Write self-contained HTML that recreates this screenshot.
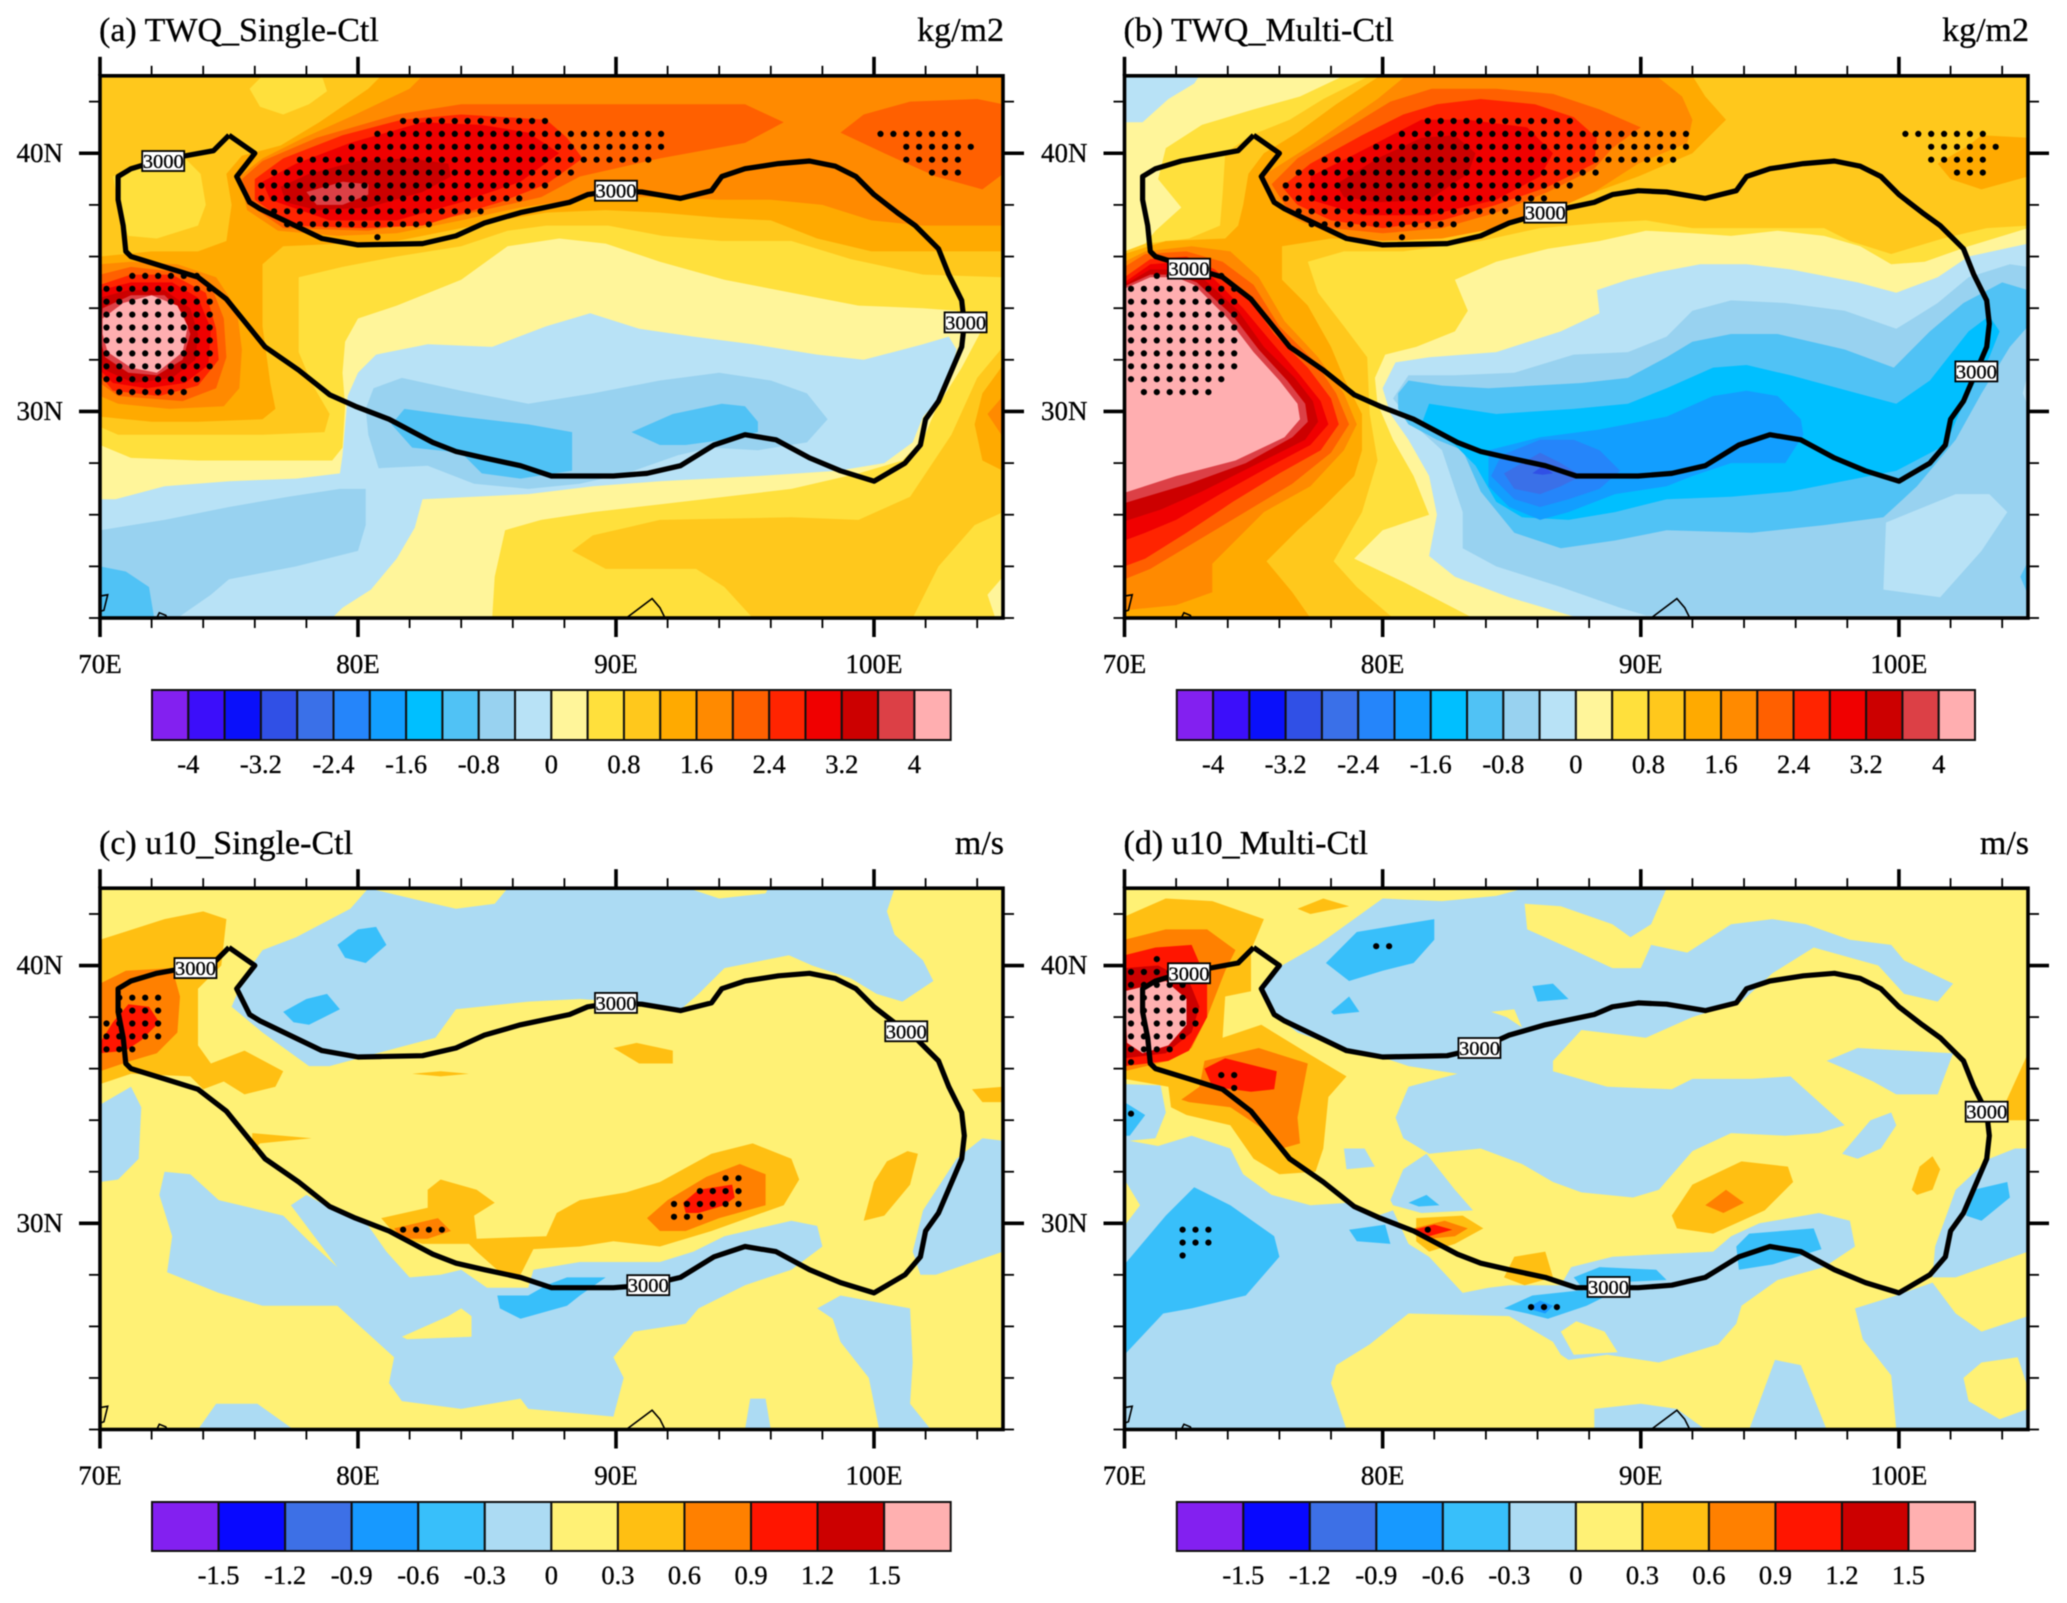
<!DOCTYPE html>
<html lang="en">
<head>
<meta charset="utf-8">
<title>TWQ and u10 anomalies</title>
<style>
html,body{margin:0;padding:0;background:#fff;}
svg{display:block;font-family:"Liberation Serif",serif;fill:#000;filter:blur(0.5px);}
svg text{stroke:#000;stroke-width:.3px;}
</style>
</head>
<body>
<svg id="figure" xmlns="http://www.w3.org/2000/svg" width="2067" height="1603" viewBox="0 0 2067 1603">
<rect x="0" y="0" width="2067" height="1603" fill="#fff"/>
<text x="99" y="41" font-size="34">(a) TWQ_Single-Ctl</text>
<text x="1004" y="41" font-size="34" text-anchor="end">kg/m2</text>
<text x="1123.5" y="41" font-size="34">(b) TWQ_Multi-Ctl</text>
<text x="2029" y="41" font-size="34" text-anchor="end">kg/m2</text>
<text x="99" y="854" font-size="34">(c) u10_Single-Ctl</text>
<text x="1004" y="854" font-size="34" text-anchor="end">m/s</text>
<text x="1123.5" y="854" font-size="34">(d) u10_Multi-Ctl</text>
<text x="2029" y="854" font-size="34" text-anchor="end">m/s</text>
</svg>
<script>
// ---- colour bands and colour-bar labels ----
const twqColors = ["#8320F0","#3C0EFA","#0A10FA","#3050E6","#3A70E8","#2585FA","#129EFF","#00BFFF","#50C2F5","#98D2F0","#B8E2F6","#FFF59A","#FFE03C","#FFC81C","#FFAA00","#FF8A00","#FF6000","#FF2400","#F00000","#CC0000","#DC4046","#FFAEB0"];
const windColors = ["#8320F0","#0808FF","#3D70E6","#1799FF","#38BFFA","#ACDBF3","#FFF175","#FFBF12","#FF8000","#FF1500","#CC0000","#FFB0B0"];
const twqColorbarLabels = ["-4","","-3.2","","-2.4","","-1.6","","-0.8","","0","","0.8","","1.6","","2.4","","3.2","","4"];
const windColorbarLabels = ["-1.5","-1.2","-0.9","-0.6","-0.3","0","0.3","0.6","0.9","1.2","1.5"];

// ---- axes ----
const lonMajorTicks = [70,80,90,100];
const lonMajorLabels = ["70E","80E","90E","100E"];
const lonMinorTicks = [72,74,76,78,82,84,86,88,92,94,96,98,102,104];
const latMajorTicks = [40,30];
const latMajorLabels = ["40N","30N"];
const latMinorTicks = [42,38,36,34,32,28,26,24,22];

// ---- 3000 m terrain contour (lon, lat) ----
const terrainContour = [75,40.7,76,40,75.3,39.1,75.8,38.1,76.2,37.85,78.6,36.7,80,36.45,82.5,36.5,83.8,36.8,84.9,37.3,86.3,37.7,88.2,38.1,88.9,38.4,89.9,38.55,91,38.5,92.5,38.25,93.7,38.55,94.1,39.1,95,39.4,96.3,39.6,97.5,39.7,98.5,39.5,99.3,39.1,100,38.4,100.9,37.7,101.6,37.2,102.5,36.3,102.9,35.3,103.4,34.3,103.5,33.4,103.4,32.5,102.5,30.4,102,29.7,101.8,28.7,101.2,28,100,27.3,98.7,27.7,97.5,28.2,96.2,28.9,95,29.1,93.8,28.7,92.5,27.9,91.2,27.6,89.9,27.5,87.5,27.5,86.3,27.9,84.9,28.2,83.8,28.45,82.9,28.8,81.2,29.7,79.9,30.2,78.9,30.65,77.7,31.6,76.4,32.5,74.9,34.35,73.8,35.2,72.5,35.6,71.2,36,71,36.2,70.9,37.2,70.7,38.2,70.7,39.1,71.2,39.4,72.2,39.7,74.4,40.1,75,40.7];
const mapOutlines = [[70,22.85,70.3,22.9,70.15,22.3,70,22.25],[72.2,22,72.3,22.2,72.55,22.1,72.6,22],[90.4,22,91.4,22.75,91.7,22.4,91.9,22],[88.2,22,88.2,22.06]];

// ---- label anchors on the terrain contour (lon, lat) ----
const twqSingleTerrainLabels = [[72.45,39.7],[90,38.55],[103.55,33.45]];
const twqMultiTerrainLabels = [[72.5,35.53],[86.3,37.7],[103,31.55]];
const windSingleTerrainLabels = [[73.7,39.9],[90,38.55],[101.25,37.45],[91.25,27.6]];
const windMultiTerrainLabels = [[72.5,39.7],[83.75,36.8],[88.75,27.53],[103.4,34.33]];

// ---- significance stippling: [lat, first lon, last lon], sampled every 0.5 degree ----
const twqStippleRows = [[41.25,81.75,87.25],[40.75,80.75,91.75],[40.25,79.75,91.75],[39.75,77.75,91.25],[39.25,76.75,88.25],[38.75,76.25,87.25],[38.25,76.25,86.25],[37.75,76.75,84.75],[37.25,77.25,82.75],[36.75,80.75,80.75],[40.75,100.25,103.25],[40.25,101.25,103.75],[39.75,101.25,103.25],[39.25,102.25,103.25],[35.25,71.25,73.75],[34.75,70.25,74.25],[34.25,70.25,74.25],[33.75,70.25,74.25],[33.25,70.25,74.25],[32.75,70.25,74.25],[32.25,70.25,74.25],[31.75,70.25,74.25],[31.25,70.25,73.75],[30.75,70.75,73.25]];
const windSingleStippleRows = [[38.75,70.75,72.25],[38.25,70.75,72.25],[37.75,70.25,72.25],[37.25,70.25,72.25],[36.75,70.25,71.25],[29.75,81.75,83.25],[31.75,94.25,94.75],[31.25,93.25,94.75],[30.75,92.25,94.75],[30.25,92.25,93.25]];
const windMultiStippleRows = [[40.25,71.25,71.25],[39.75,70.25,71.75],[39.25,70.25,72.25],[38.75,70.25,72.25],[38.25,70.25,72.75],[37.75,70.25,72.75],[37.25,70.25,72.25],[36.75,70.25,71.75],[36.25,70.25,70.25],[40.75,79.75,80.25],[35.75,73.75,74.25],[35.25,74.25,74.25],[34.25,70.25,70.25],[29.75,72.25,73.25],[29.25,72.25,73.25],[28.75,72.25,72.25],[29.75,81.75,81.75],[26.75,85.75,86.75]];

// ---- filled contour regions: [colour band, [lon, lat, lon, lat, ...]] painted in order ----
const twqSingleBaseBand = 13;
const twqSingleRegions = [
[12,[70,29.4,70.7,29.1,73.8,29.1,76.3,29.1,78.7,29.2,78.9,29.9,78.2,31.1,77.7,32.3,77.7,35.2,79.4,35.6,81.5,36,84,36.4,85.8,37,87.3,37.2,89.7,37.2,91.8,36.8,94.1,36.6,96.8,36.6,99.1,35.9,101.9,35.3,105,35.2,105,32.5,104,31.3,103,29.1,101.4,26.7,99.4,25.8,96.8,25.9,91.7,25.8,89.1,25.2,88.3,24.6,89.6,23.9,93.1,23.9,94.2,23.2,95.3,22,70,22]],
[12,[101.5,22,102.5,24,103.9,25.6,105,26.1,105,22]],
[12,[75.8,42.5,76.3,43,78.6,43,78.8,42.4,78.1,41.9,77.1,41.5,76.2,41.8]],
[12,[70.5,39.1,71.6,39.6,73.3,39.8,73.9,39.2,74.1,38,73.8,37.2,72.2,36.7,71.1,36.8,70.8,37.6]],
[11,[70,28.7,71.2,28.2,73.8,28.1,76.3,28.1,79,28.1,79.4,28.6,79.5,30.2,79.4,31.5,79.5,32.7,80,33.6,81.5,34.1,84,35.1,85.8,36.4,87.8,36.7,89.6,36.5,91.7,35.8,94.2,35.1,96.8,34.6,99.4,34.1,101.9,34,103.2,33.9,104.2,33.2,103.4,31.7,102.4,30.1,101.9,28.9,101.1,28.1,99.4,27.6,96.8,27,91.7,26.4,89.1,26.1,87.1,25.8,85.7,25.4,85.3,23.6,85.2,22,70,22]],
[11,[105,23.6,104.4,22.9,104.7,22,105,22]],
[10,[70,26.6,70.6,26.6,72.5,27.1,75,27.3,77.6,27.4,79.3,27.6,79.4,28.3,79.6,30.6,80,31.5,80.7,32.2,82.7,32.6,85.2,32.5,87.3,33.3,89,33.8,90.9,33.2,93,32.9,95.3,32.6,97.8,32.2,99.6,32,101.9,32.6,102.9,32.9,103.2,32.4,102.8,30.8,101.9,29.8,101.5,28.8,100.4,28,98.6,27.7,95.5,27.5,91.7,27.3,89.1,27.1,86.6,26.8,84.5,26.7,82.5,26.6,82.2,25.5,81.5,24.3,80.5,23.1,79.4,22.4,79,22,70,22]],
[9,[80.6,30.9,81.7,31.3,84,30.8,86.6,30.3,89.1,30.7,91.7,31.2,94,31.5,96,31.2,97.4,30.7,98.2,29.7,97.4,28.8,95.5,28.5,93.7,28.6,92.4,28.3,90.4,27.6,88.6,27.2,86.6,27,84.5,27.2,82.7,27.9,80.8,27.8,80.4,29.1,80.3,30.1]],
[9,[70,25.4,72.5,25.8,75,26.3,77.3,26.7,79.3,27,80.3,27,80.3,25.6,80,24.6,77.6,24,75,23.5,74.3,22.9,73,22,70,22]],
[8,[81.8,30.1,84,29.8,86.6,29.5,88.3,29.2,88.3,27.7,87.6,27.6,86.3,27.4,84.8,27.6,84,28.4,82.1,28.6,81.3,29.5]],
[8,[90.6,29.2,92.2,29.9,94.1,30.3,95,30.2,95.5,29.6,95.5,29.2,94.2,28.9,92.7,28.7,91.7,28.7]],
[8,[70,24,71,23.8,71.9,23.2,72.1,22,70,22]],
[14,[80.9,43,80.4,42.5,78.5,41.2,77,40.3,75.5,39.9,74.9,39.2,75.1,38,74.9,36.6,73.8,36.2,72,36.2,70,36,70,29.8,72,29.6,73.8,29.6,76.3,29.7,76.8,30.1,76.6,31.1,76.3,33.3,76.3,35.7,77.1,36.4,79.4,36.5,81.5,36.6,83.5,37,85.5,37.4,87.3,37.7,89.6,37.8,91.7,37.7,94,37.5,96,37.4,97.8,36.7,99.9,36.2,101.9,36.2,105,36.2,105,43]],
[14,[105,31.8,104.2,30.7,103.9,29.5,104.2,28.1,105,27.7]],
[15,[105,30.6,104.4,29.9,105,29]],
[15,[82.5,43,82,42.5,79.9,41.5,77.9,40.6,76.3,39.8,75.4,39.1,75.7,37.8,76.9,37,79.2,36.8,81.5,36.9,84,37.4,86.3,37.9,89.1,38.3,91.7,38.3,94,38.2,96,38.2,98,38,99.9,37.4,101.9,37.2,105,37.2,105,43]],
[15,[70,35.7,71.2,35.8,73,35.7,74.5,35.2,75.3,34,75.5,32.4,75.4,30.9,74.8,30.2,72.7,30.1,70.7,30.3,70,30.6]],
[16,[81.5,41.5,84,41.9,87.8,41.9,91.7,41.9,95,41.9,96.5,41.2,95,40.4,91.7,39.8,88.6,39.1,87.1,38.3,84,37.6,80.4,37,77.1,37.1,75.8,38,75.5,39,76.3,39.7,78.4,40.6]],
[16,[98.7,40.8,99.6,41.5,101.4,42,104,42.1,105,41.9,105,39.2,104.2,38.6,102.4,39.1,100.4,40]],
[16,[70,35.3,71.2,35.6,73,35.4,74.3,34.9,74.8,33.6,74.9,32.1,74.5,30.9,73.2,30.4,70.7,30.6,70,31.1]],
[17,[81.7,41.3,84,41.5,87.3,41.3,88.1,40.6,88.7,39.8,87.3,38.8,85.5,38.1,82.5,37.2,80.2,37.1,77.4,37.2,76,38.2,76,39,77.1,39.8,79.4,40.7]],
[17,[70,34.9,71.2,35.3,72.8,35.3,74.1,34.6,74.5,33.2,74.6,32,73.8,31,72.3,30.6,70.5,30.8,70,31.4]],
[18,[82.5,41.2,84.8,41.1,86.6,40.8,87.8,40,86.3,38.9,84,38.1,81.5,37.4,78.9,37.4,76.6,38.2,76.3,38.9,77.6,39.6,79.7,40.4]],
[18,[70,34.7,71.2,35,72.8,35,73.8,34.4,74.3,33.2,74.2,31.8,73.3,31.1,71.8,30.9,70.5,31.1,70,31.6]],
[19,[77,38.7,78.1,39.2,80,39.7,82,39.8,83.5,39.6,83.6,39.1,82.5,38.5,80.4,37.9,78.4,37.8,77.2,38.1]],
[19,[70,34.4,71.1,34.7,72.5,34.7,73.5,34,73.8,33,73.7,32,72.8,31.3,71.3,31.1,70.2,31.6,70,32]],
[20,[78,38.5,79.4,38.9,80.4,38.8,80.4,38.4,79.4,38,78.4,38]],
[20,[70.1,34,71.2,34.5,72.5,34.5,73.2,33.8,73.5,33,73.2,32,72.2,31.4,71.1,31.5,70.2,32.1,70,32.8]],
[21,[70.1,33.6,70.9,34.2,72,34.5,73,34.1,73.4,33.3,73.2,32.3,72.2,31.5,71.2,31.7,70.3,32.3,70.1,33]]
];

const twqMultiBaseBand = 13;
const twqMultiRegions = [
[12,[79.5,43,77.7,42.1,76.4,41.3,74.9,40.7,73.9,40,73.8,38.4,73.7,37.2,72.5,36.7,70,36.4,70,43]],
[11,[70,43,78.5,43,76.8,42.2,75,41.7,73,41.1,71.6,40.2,71.3,39,72.2,37.9,71.2,37,70.8,36.5,70,36.2]],
[10,[70,43,72.9,43,72.7,42.7,71.7,42.1,70.7,41.2,70,41.2]],
[12,[77.1,35.8,78.5,36.2,80.8,36.2,83.8,36.6,86.1,37.1,88.4,37.3,90.2,37.4,92,37.1,94.6,37.1,97.1,37.1,98.1,36.6,99.7,36.1,101.7,36.7,103.4,37.1,105,37.2,105,22,80.4,22,79,23.2,78.1,24.2,79.2,26.1,79.8,28.1,79.5,29.9,79.4,32.1,78.5,33.3,77.5,34.6]],
[11,[80.1,32.2,81.3,32.5,82.8,33.1,83.3,33.9,82.8,35.1,84.4,35.8,86.4,36.3,88.4,36.6,90.2,37,92,36.9,93.5,36.8,95.3,37,97.1,36.8,98.5,36.4,99.7,35.7,101,35.8,102.7,36.4,105,37.1,105,22,83.5,22,80.8,23.4,78.9,24.3,80,25.4,81.8,26,81.2,27.5,80.4,28.9,79.8,30.3,79.7,31.3]],
[10,[87.6,22,84.9,22.8,82.8,23.6,81.8,24.4,82.1,26,81.8,27.5,81,28.9,80.3,29.9,80,30.9,80.5,31.9,81.8,32.1,84.4,32.3,86.9,33.1,88.4,33.8,88.3,34.7,89.5,35.1,90.7,35.4,92.3,35.7,94.1,35.7,95.8,35.5,98.4,35,99.9,34.6,101.5,35.2,102.7,36,105,36.5,105,22]],
[9,[80.4,30.5,81,31.4,82.8,31.4,85.1,31.5,87.4,32.2,89.5,32.3,91,32.9,92,33.9,93.5,34.3,95.6,34.2,97.9,33.9,99.9,33.2,101.5,34.2,102.7,35.2,104.3,35.7,105,35.6,105,22.1,90.2,22.1,89.2,22.4,86.9,23.2,84.4,24,83.1,24.7,83.1,26.1,82.3,28.5,81.2,29.5]],
[10,[99.5,25.7,102.2,26.8,103.5,26.8,104.2,26.1,103.2,24.6,101.6,22.8,99.4,23.1]],
[10,[105,31.5,104.8,30.7,105,30.2]],
[8,[105,24.2,104.7,23.6,105,22.9]],
[8,[80.6,30.7,81,31.2,82.3,31,84.1,30.9,87.7,31.1,89.5,31.3,91,32.1,92,32.7,93.5,33,95.3,33,97.9,32.4,99.8,31.7,101.2,33.1,102.5,34.2,104,35,105,34.7,105,33.3,104.3,32.5,103.2,30.7,102.2,28.9,100.7,27.1,99.4,25.9,97.1,25.6,94.3,25.3,91,25.4,89,25,86.9,24.7,85.1,25.3,83.8,26.9,83.1,28.5,82.1,28.9,81,29.5,80.6,30.1]],
[7,[81.8,30.3,84.4,29.9,87.4,30.1,89.5,30.3,91,30.9,92.8,31.7,94.1,31.8,95.8,31.4,98.4,30.7,99.9,30.3,101.2,31.2,102.7,33.1,103.5,33.7,103.9,33.1,103.5,32.1,102.5,30.3,101.8,28.7,99.9,27.7,95.8,26.9,93.5,26.7,91,26.6,89,26.1,87.2,25.8,85.4,25.9,84.4,26.5,83.6,27.9,82.8,28.7,81.5,29.5]],
[6,[84.1,28.5,86.1,29,88.4,29.3,91,29.8,92.8,30.6,94.1,30.8,95.3,30.6,96.2,29.7,96.3,29.1,95.6,28,93.5,28,92,27.5,91,27.1,89,26.8,87.2,26.1,86.1,25.8,84.9,26.3,84.1,27.1]],
[5,[84.6,28.3,86.1,28.9,87.4,28.9,88.4,28.5,89.2,27.7,88.4,27,87.2,26.6,86.1,26.3,85.1,26.6,84.2,27.5]],
[4,[84.7,27.6,86.1,28.4,86.9,28,87.7,27.5,86.9,27.1,86.1,26.8,85.1,27]],
[3,[85.8,27.6,86.2,27.9,86.6,27.6,86.2,27.55]],
[14,[79.9,43,78.2,41.9,76.7,40.8,75.4,40,74.8,39.2,74.6,38,74.4,37.2,73.9,36.7,71.6,36.6,70,36.1,70,22,77.2,22,76.5,23,75.5,24.2,76.7,25.4,77.7,26.3,78.9,27.5,79.2,28.5,79.2,29.9,78.5,31.3,78,32.5,77.1,34.1,76.1,35.1,76.1,36.4,78,36.7,80.8,36.6,83.1,36.9,85.1,37.5,87.7,38.3,89.9,39.1,92,40,93.3,41.3,92.5,42.2,92,43]],
[14,[101.5,39.6,102.7,40.3,103.2,40.7,105,40.6,105,39.1,103.2,38.6,102,39]],
[15,[80.9,43,79.8,42.1,78.5,41.2,77.2,40.3,76.1,39.6,75.3,39.1,75.7,38.1,76.7,37.4,78.2,36.8,80,36.6,82.3,36.7,84.4,37.1,86.4,37.7,88.2,38.5,89.9,39.6,91.8,40.4,92,41.3,91.6,42.2,90.6,43]],
[15,[70,35.8,70.8,36.2,72.6,36.4,74.1,36.2,75.2,35.2,76.2,33.5,77.5,32.1,78.5,30.7,79,29.5,78.5,28.5,77.2,27.1,75.4,26.1,73.4,24.1,73.4,23,72,22.5,70,22.3]],
[16,[81.9,42.5,84.4,42.5,86.6,42.3,88.4,41.7,90,41,88.9,40.2,88.2,39.4,86.4,38.5,84.4,37.7,82.3,37.1,80,36.9,78,37.1,76.4,37.7,75.7,38.8,76.7,39.8,78.5,40.9,80.3,42]],
[16,[70,35.6,70.8,36.1,72.4,36.2,73.8,35.8,75,34.9,76,33.3,77.4,31.9,78.2,30.7,78.7,29.5,78,28.4,76.5,27.2,74.5,26,72.5,24.8,71,23.9,70,23.5]],
[17,[82.1,41.9,83.8,42.1,85.9,41.9,87.4,41.4,88.3,40.6,88.2,39.6,86.4,38.7,84.4,38,82.3,37.4,80,37.1,78,37.4,76.7,38,76.1,38.7,77.2,39.6,79.2,40.7,80.8,41.5]],
[17,[70,35.2,71,35.9,72.4,36,73.5,35.5,74.8,34.4,75.8,33,77.1,31.7,78,30.5,78.3,29.5,77.6,28.5,76,27.6,74.2,26.5,72.4,25.3,70.8,24.3,70,24]],
[18,[81.5,41.3,83.3,41.3,85.6,41,86.6,40,86.1,39.1,84.4,38.2,81.8,37.6,79.2,37.6,77.2,38.2,77.2,39.1,79,40]],
[18,[70,35,71,35.7,72.3,35.8,73.3,35.3,74.6,34,75.6,32.8,76.8,31.4,77.6,30.4,77.9,29.5,77.2,28.7,75.5,27.8,73.7,26.8,72,25.8,70.8,25.3,70,25]],
[19,[78.2,38.8,79.8,39.8,81.5,40.6,82.8,40.7,83.6,40,83.3,39.2,81.8,38.2,79.8,38.1,78.5,38.3]],
[19,[70,34.9,71,35.5,72.2,35.5,73,35.2,74.4,33.9,75.4,32.5,76.6,31.3,77.3,30.4,77.5,29.6,77,28.9,75.2,28,73,26.9,71.4,26.2,70,25.75]],
[20,[70,34.85,71,35.3,72,35.3,72.8,35,74.2,33.7,75.2,32.4,76.3,31.2,77,30.3,77.1,29.6,76.5,29,74.7,28,72.5,27.2,70,26.45]],
[21,[70,34.75,71,35.2,72,35.2,72.7,34.9,74,33.6,75,32.3,76,31.2,76.7,30.3,76.8,29.7,76.2,29,74.3,28.1,72,27.5,70,26.85]]
];

const windSingleBaseBand = 6;
const windSingleRegions = [
[5,[80.4,43,82.5,42.5,83.8,42.2,85.3,42.4,85.8,43,92.8,43,94,42.6,95.8,42.8,95.9,43,100.8,43,100.5,42.1,100.8,41.2,101.9,40.2,102.3,39.4,101.1,38.6,100.1,38.9,99.1,39.5,97.6,40,96.7,40.4,94.2,39.9,93.2,38.9,92.4,38.2,90.1,38.6,88.6,38.7,86.6,38.6,83.8,38.3,83,37.2,81.5,36.8,78.9,36.1,78.1,36.1,76.3,37.4,75.1,38.4,75.6,39.6,76.3,40.6,77.6,41.1,79.7,42.2]],
[4,[79.2,40.8,80,41.4,80.7,41.5,81.1,40.8,80.3,40.1,79.5,40.3]],
[4,[77.1,38.2,78,38.7,78.8,38.9,79.3,38.3,78.1,37.7,77.5,37.8]],
[5,[70,34.6,71.2,35.3,71.6,34.5,71.5,32.5,70.7,31.7,70,31.6]],
[5,[72.3,31.1,72.5,32,73.5,31.9,74.6,30.9,77.1,30.3,78.1,29.3,79.2,28.3,77.4,30.7,78,31.1,78.9,30.6,80.4,29.9,81.1,28.9,82,27.9,83.2,28,84,28.2,85,27.5,86.6,27.5,86.8,28.2,88.6,28.5,91.7,28.5,93,28.9,94.2,29.5,96.8,30.1,97.8,29.9,98,29.1,96.8,28.2,95,27.6,93.2,26.7,92.7,26.1,90.7,25.8,89.9,24.8,90.3,24,89.9,22.5,86.6,22.8,86.3,23.2,84,22.8,81.7,23.1,81.2,23.8,81.4,24.8,79.2,26.8,76.3,26.8,74.6,27.3,72.6,28.1,72.8,29.5]],
[6,[81.7,25.6,83.5,26.4,84,26.7,84.4,26.4,84.4,25.6,81.9,25.5]],
[5,[73.8,22,74.5,23,76.1,23,77.5,22]],
[5,[95,22,95.2,23.2,95.8,23.2,96,22]],
[5,[97.8,26.7,98.7,27.2,101.4,26.7,101.5,24.6,101.4,23,102.2,22,100.2,22,99.8,24,98.7,25.4,98.4,26.3]],
[5,[101.5,28.9,101.9,30.5,103.2,32.5,104.2,33.3,105,33.2,105,28.9,102.4,28,101.8,28]],
[4,[85.4,27.2,86.6,27.2,87.3,27.6,88.1,27.9,89.6,27.9,88.6,27.2,88.1,26.8,86.3,26.3,85.5,26.7]],
[7,[70,41,72.5,41.8,74,42.1,74.9,41.8,74.7,40,73.8,39.1,73.8,36.9,74.3,36.2,75.6,36.7,77.1,35.9,76.8,35.3,75.6,35,74.8,35.5,74,35.2,73.5,35.7,71.2,35.8,70,35.4]],
[7,[82.1,35.8,83.2,35.9,84.3,35.8,83.2,35.7]],
[7,[89.9,36.8,90.8,37,92.2,36.7,92.2,36.2,90.9,36.2]],
[7,[103.8,35.2,105,35.3,105,34.7,104.2,34.7]],
[7,[75.9,33.5,78.2,33.3,76.2,33.1,75.9,32.8]],
[7,[100.5,32.4,101.3,32.8,101.7,32.7,101.4,31.5,100.4,30.3,99.6,30.1,100,31.6]],
[7,[80.9,30.2,82.7,30.6,82.7,31.3,83.2,31.7,84.6,31.3,85.3,30.8,84.5,30.3,84.6,29.4,87.3,29.5,87.7,30.4,88.6,30.9,90.4,31.2,91.7,31.6,93.7,32.7,95.3,33.1,96.8,32.5,97.1,31.7,96.5,30.7,93.7,29.7,91.7,29.1,89.9,29.3,88.6,29.1,86.8,29,86.3,28,85.5,28.1,84.6,28.9,84.3,29.2,82.5,29.2,81.5,29.5]],
[8,[70,39.3,71,39.8,72.8,39.9,73.1,38.8,73,37.4,72.2,36.6,71.2,36.3,70,35.9]],
[8,[81.4,29.8,83.1,30.2,83.6,29.7,82.7,29.4,81.7,29.4]],
[8,[91.2,30.2,92,30.9,93.5,31.8,94.8,32.3,95.8,31.9,95.8,30.7,94,30.2,92.7,29.7,91.7,29.7]],
[9,[70.5,37.8,71.1,38.5,71.9,38.4,72.3,37.8,71.6,37.1,71,36.7,70,36.6,70,37]],
[9,[92.6,30.8,93.2,31.3,94.5,31.5,94.6,31,94.2,30.7,93.2,30.4,92.7,30.4]]
];

const windMultiBaseBand = 6;
const windMultiRegions = [
[5,[70,22,70,35.4,71.4,35.35,71.6,34.3,71.2,33.3,70.2,33.2,71.3,33,72.6,33.4,74.1,32.9,74.6,31.9,75.7,31.1,77.2,30.7,78.7,30.8,79.8,30.3,80.4,30.5,81,29.2,81.8,28.7,83.1,27.3,84.1,27.5,84.9,27.6,86.4,27.6,86.9,27.6,87.3,28.3,88.9,28.7,90.7,28.8,92.8,28.9,93.5,29.5,94.6,30,96.9,30.4,98.1,30.1,98.3,29.1,97.1,28.3,95.3,27.8,93.9,26.8,93.7,26.1,93,25.3,90.7,24.6,88.7,24.9,87.2,24.7,86.9,24.9,86.6,25.4,84.9,26.4,81,26.5,79.5,25.3,78.2,24.5,78,23.8,78.6,22]],
[6,[70,31.7,70.6,30.7,70,29.9]],
[6,[86.9,25.8,87.5,26.2,88.6,25.8,89.1,25,87.4,24.9]],
[5,[76.1,40,77.5,40.8,80,42.6,82.3,42.5,84.4,42.7,85.5,43,91,43,90.4,41.6,89.6,41.1,88.9,41.6,86.9,42.3,85.5,42.4,85.6,41.4,87.4,40.6,88.9,39.9,90,39.9,90.4,40.8,91.8,40.5,93.5,41.6,95.1,41.8,96.4,41.6,98.1,41,99.7,40.8,100.2,40.2,102.1,39.3,101.5,38.6,100.2,38.9,99.2,40,96.7,40.7,95.1,39.7,93.9,38.6,92,38,90.2,37.2,87.7,37.5,86.6,36.3,86.6,35.9,88.7,35.3,91.2,35.2,92,35.6,94.3,35.6,95.8,35.7,97.9,33.8,96.9,33.5,95.6,33.4,93.5,33.5,92,32.8,90.7,31.3,89.7,31,87.7,31.2,86.6,31.6,85.4,32.3,83.8,32.9,81.8,32.7,80.8,33.3,80.5,34.1,81,35.3,82.9,35.8,81,36.1,79.8,36.5,78.7,36.7,76.7,37.4,75.8,38.1,75.3,39]],
[6,[84.2,38.2,85.1,38.3,85.4,37.6,84.8,38]],
[5,[97.2,36.3,98.4,36.8,100.2,36.7,102.1,36.6,101.5,35,99.9,35,99,35.5,97.9,36]],
[5,[97.8,32.7,98.9,34,99.7,34.3,99.9,33.8,99.3,32.9,98.4,32.5]],
[5,[80.3,30.9,80.8,32.1,81.7,32.7,82.8,31.3,83.5,30.5,81.5,30.4,80.4,30.7]],
[5,[78.5,32.9,79.3,32.9,79.7,32.2,78.6,32.1]],
[5,[101.4,29.1,102.2,31.3,103.5,32.5,104.5,32.9,105,32.9,105,28.9,102.2,27.9,101.3,27.9]],
[5,[98.3,26.7,99.9,27.2,101.3,27.7,102.2,26.5,103.2,25.8,105,26.4,105,22,99.9,22,99.7,24.1,98.6,25.5]],
[6,[102.5,24,103.2,24.6,104.6,24.8,105,23.6,105,22.8,103.9,22.4,102.7,23.1]],
[5,[94.2,22,95.2,24.7,96.2,24.5,97.2,22]],
[5,[88.2,22,88.2,22.8,90,23,91.4,22.8,92.5,22]],
[7,[70,41.9,71.6,42.6,73.4,42.5,75.4,41.8,74.9,40.6,74.9,39,73.9,38.8,73.8,37.2,75.3,37.7,77.1,36.6,78.6,35.7,77.9,34.9,77.7,32.9,77.4,32,76,31.9,75,32.5,74.1,33.8,72.4,34.2,71.8,34.5,71.7,35.3,70,35.6]],
[7,[76.7,42.2,77.7,42.6,78.7,42.3,77.2,42]],
[7,[104,34.4,105,36.6,105,34,104,34]],
[7,[100.5,31.3,100.8,32.2,101.3,32.6,101.6,32.1,101.3,31.3,100.7,31.1]],
[7,[91.2,30.3,92,31.5,93.9,32.4,95.7,32.2,95.9,31.6,94.8,30.5,92.8,29.6,91.4,29.8]],
[7,[81.3,29.9,81.3,30.2,83.1,30.3,83.9,29.8,82.8,29.2,81.8,28.9,81.3,29.3]],
[7,[84.7,27.9,85.1,28.7,86.3,28.9,86.6,27.9,85.5,27.6]],
[8,[70,41,71.6,41.4,73.2,41.4,74.3,40.6,73.9,39.8,73.2,38,72.6,36.8,71.7,36.3,70,35.9]],
[8,[72.2,34.8,72.9,35.3,73.1,36.3,75.2,36.8,77.1,36.2,76.7,34.1,76.8,33.1,76.1,32.9,75.3,33.7,74.1,34.5,72.5,34.7]],
[8,[92.5,30.7,93.3,31.3,94,30.8,93.2,30.4]],
[8,[81.2,29.8,82.4,30.1,83.3,29.8,82.8,29.5,81.8,29.4]],
[9,[70,40.4,71.2,40.7,72.6,40.8,73.2,39.4,73.2,38,72.5,36.7,71.7,36.3,70,36.1]],
[9,[73.1,36,73.9,36.4,75.9,35.9,75.8,35.2,74.9,35.1,73.4,35.3]],
[9,[81.2,29.75,82,29.95,82.7,29.75,81.8,29.5]],
[10,[70,39.9,71.3,40,72.5,39.4,72.9,38.4,72.6,37.4,71.6,36.6,70,36.4]],
[11,[70,39,71.6,39.4,72.4,38.7,72.4,37.7,71.7,36.9,70.7,36.6,70.1,37]],
[4,[77.8,40.1,79,41.3,82,41.8,82,41,81.2,40.1,80,39.8,78.7,39.4]],
[4,[85.8,39.2,86.6,39.3,87.2,38.7,86,38.6]],
[4,[78,38.2,78.7,38.8,79.1,38.2,78.1,38.1]],
[4,[70,34.7,70.8,34.2,70.2,33.4,70,33.4]],
[4,[70,28.4,71.6,30.3,72.7,31.4,74.1,30.7,75.8,29.5,76,28.7,74.7,27.2,72.6,26.7,71.5,26.5,70,24.9]],
[4,[78.7,29.75,80.1,29.95,80.3,29.2,79,29.3]],
[4,[81,30.8,81.7,31.1,82.2,30.7,81.4,30.65]],
[4,[93.7,29.1,94.2,29.6,96.7,29.8,97,29,95.1,28.4,93.8,28.2]],
[4,[87.4,27.9,88.4,28.3,90.6,28.2,91,27.8,88.7,27.7,87.9,27.3]],
[4,[84.7,26.7,85.8,27.2,87.7,27.4,88.7,27.2,87.9,26.8,86.4,26.3,85.6,26.5]],
[4,[102.6,30.3,102.9,31.3,104.2,31.6,104.3,31,103.2,30.1]],
[3,[85.6,26.7,86.1,27,86.6,26.8,86.3,26.5]]
];

// ---- drawing ----
const SVG_NS = "http://www.w3.org/2000/svg";
const figure = document.getElementById("figure");
const LON_MIN = 70, LON_MAX = 105, LAT_MIN = 22, LAT_MAX = 43;

function svgEl(tag, parent) {
  const el = document.createElementNS(SVG_NS, tag);
  parent.appendChild(el);
  return el;
}
function drawPanel(id, box, cbarBox, base, regions, palette, stipple, labels, cbarLabels) {
  const lonX = lon => box.left + (lon - LON_MIN) * (box.right - box.left) / (LON_MAX - LON_MIN);
  const latY = lat => box.bottom - (lat - LAT_MIN) * (box.bottom - box.top) / (LAT_MAX - LAT_MIN);
  const toPoints = ring => {
    const out = [];
    for (let i = 0; i < ring.length; i += 2) out.push(lonX(ring[i]).toFixed(1) + "," + latY(ring[i + 1]).toFixed(1));
    return out.join(" ");
  };
  const g = svgEl("g", figure);
  
  

  const clip = svgEl("clipPath", g);
  clip.setAttribute("id", "clip-" + id);
  const clipRect = svgEl("rect", clip);
  clipRect.setAttribute("x", box.left);
  clipRect.setAttribute("y", box.top);
  clipRect.setAttribute("width", box.right - box.left);
  clipRect.setAttribute("height", box.bottom - box.top);

  const field = svgEl("g", g);
  field.setAttribute("clip-path", "url(#clip-" + id + ")");
  
  

  const bg = svgEl("rect", field);
  bg.setAttribute("x", box.left);
  bg.setAttribute("y", box.top);
  bg.setAttribute("width", box.right - box.left);
  bg.setAttribute("height", box.bottom - box.top);
  bg.setAttribute("fill", palette[base]);
  
  

  regions.forEach(region => {
    const poly = svgEl("polygon", field);
    poly.setAttribute("points", toPoints(region[1]));
    poly.setAttribute("fill", palette[region[0]]);
    
    
  });

  mapOutlines.forEach(line => {
    const pl = svgEl("polyline", field);
    pl.setAttribute("points", toPoints(line));
    pl.setAttribute("fill", "none");
    pl.setAttribute("stroke", "#000");
    pl.setAttribute("stroke-width", "1.6");
    
    
  });

  const terrain = svgEl("polyline", g);
  terrain.setAttribute("points", toPoints(terrainContour));
  terrain.setAttribute("fill", "none");
  terrain.setAttribute("stroke", "#000");
  terrain.setAttribute("stroke-width", "5.2");
  terrain.setAttribute("stroke-linejoin", "round");
  
  

  stipple.forEach(row => {
    for (let lon = row[1]; lon <= row[2]; lon += 0.5) {
      const dot = svgEl("circle", g);
      dot.setAttribute("cx", lonX(lon).toFixed(1));
      dot.setAttribute("cy", latY(row[0]).toFixed(1));
      dot.setAttribute("r", "3.1");
      dot.setAttribute("fill", "#000");
      
      
    }
  });

  labels.forEach(anchor => {
    const cx = lonX(anchor[0]), cy = latY(anchor[1]);
    const boxEl = svgEl("rect", g);
    boxEl.setAttribute("x", cx - 21);
    boxEl.setAttribute("y", cy - 10);
    boxEl.setAttribute("width", 42);
    boxEl.setAttribute("height", 20);
    boxEl.setAttribute("fill", "#fff");
    boxEl.setAttribute("stroke", "#000");
    boxEl.setAttribute("stroke-width", "1.8");
    
    
    const t = svgEl("text", g);
    t.setAttribute("x", cx);
    t.setAttribute("y", cy + 7);
    t.setAttribute("font-size", "20.5");
    t.setAttribute("text-anchor", "middle");
    
    
    t.textContent = "3000";
  });

  const frame = svgEl("rect", g);
  frame.setAttribute("x", box.left);
  frame.setAttribute("y", box.top);
  frame.setAttribute("width", box.right - box.left);
  frame.setAttribute("height", box.bottom - box.top);
  frame.setAttribute("fill", "none");
  frame.setAttribute("stroke", "#000");
  frame.setAttribute("stroke-width", "3.6");
  
  

  const tick = (x1, y1, x2, y2, w, name) => {
    const l = svgEl("line", g);
    l.setAttribute("x1", x1);
    l.setAttribute("y1", y1);
    l.setAttribute("x2", x2);
    l.setAttribute("y2", y2);
    l.setAttribute("stroke", "#000");
    l.setAttribute("stroke-width", w);
    
    
  };
  lonMajorTicks.forEach((lon, i) => {
    tick(lonX(lon), box.top, lonX(lon), box.top - 19, 3.6, "x-major-tick-top");
    tick(lonX(lon), box.bottom, lonX(lon), box.bottom + 19, 3.6, "x-major-tick-bottom");
    const t = svgEl("text", g);
    t.setAttribute("x", lonX(lon));
    t.setAttribute("y", box.bottom + 55);
    t.setAttribute("font-size", "27");
    t.setAttribute("text-anchor", "middle");
    
    
    t.textContent = lonMajorLabels[i];
  });
  lonMinorTicks.forEach(lon => {
    tick(lonX(lon), box.top, lonX(lon), box.top - 10, 1.8, "x-minor-tick-top");
    tick(lonX(lon), box.bottom, lonX(lon), box.bottom + 10, 1.8, "x-minor-tick-bottom");
  });
  latMajorTicks.forEach((lat, i) => {
    tick(box.left, latY(lat), box.left - 21, latY(lat), 3.6, "y-major-tick-left");
    tick(box.right, latY(lat), box.right + 21, latY(lat), 3.6, "y-major-tick-right");
    const t = svgEl("text", g);
    t.setAttribute("x", box.left - 37);
    t.setAttribute("y", latY(lat) + 8.5);
    t.setAttribute("font-size", "27");
    t.setAttribute("text-anchor", "end");
    
    
    t.textContent = latMajorLabels[i];
  });
  latMinorTicks.forEach(lat => {
    tick(box.left, latY(lat), box.left - 11, latY(lat), 1.8, "y-minor-tick-left");
    tick(box.right, latY(lat), box.right + 11, latY(lat), 1.8, "y-minor-tick-right");
  });

  // colour bar
  const step = (cbarBox.right - cbarBox.left) / palette.length;
  palette.forEach((color, i) => {
    const cell = svgEl("rect", g);
    cell.setAttribute("x", cbarBox.left + i * step);
    cell.setAttribute("y", cbarBox.top);
    cell.setAttribute("width", step);
    cell.setAttribute("height", cbarBox.bottom - cbarBox.top);
    cell.setAttribute("fill", color);
    cell.setAttribute("stroke", "#111");
    cell.setAttribute("stroke-width", "2");
    
    
  });
  cbarLabels.forEach((label, i) => {
    if (!label) return;
    const t = svgEl("text", g);
    t.setAttribute("x", cbarBox.left + (i + 1) * step);
    t.setAttribute("y", cbarBox.bottom + 33);
    t.setAttribute("font-size", "26.5");
    t.setAttribute("text-anchor", "middle");
    
    
    t.textContent = label;
  });
}
const topRow = {top:75.8, bottom:618};
const bottomRow = {top:888.2, bottom:1429.5};
drawPanel("a", {left:100, right:1003, top:topRow.top, bottom:topRow.bottom}, {left:152, right:950.7, top:690, bottom:740}, twqSingleBaseBand, twqSingleRegions, twqColors, twqStippleRows, twqSingleTerrainLabels, twqColorbarLabels);
drawPanel("b", {left:1124.5, right:2028, top:topRow.top, bottom:topRow.bottom}, {left:1176.8, right:1975, top:690, bottom:740}, twqMultiBaseBand, twqMultiRegions, twqColors, twqStippleRows, twqMultiTerrainLabels, twqColorbarLabels);
drawPanel("c", {left:100, right:1003, top:bottomRow.top, bottom:bottomRow.bottom}, {left:152, right:950.7, top:1502, bottom:1551}, windSingleBaseBand, windSingleRegions, windColors, windSingleStippleRows, windSingleTerrainLabels, windColorbarLabels);
drawPanel("d", {left:1124.5, right:2028, top:bottomRow.top, bottom:bottomRow.bottom}, {left:1176.8, right:1975, top:1502, bottom:1551}, windMultiBaseBand, windMultiRegions, windColors, windMultiStippleRows, windMultiTerrainLabels, windColorbarLabels);
</script>
</body>
</html>
